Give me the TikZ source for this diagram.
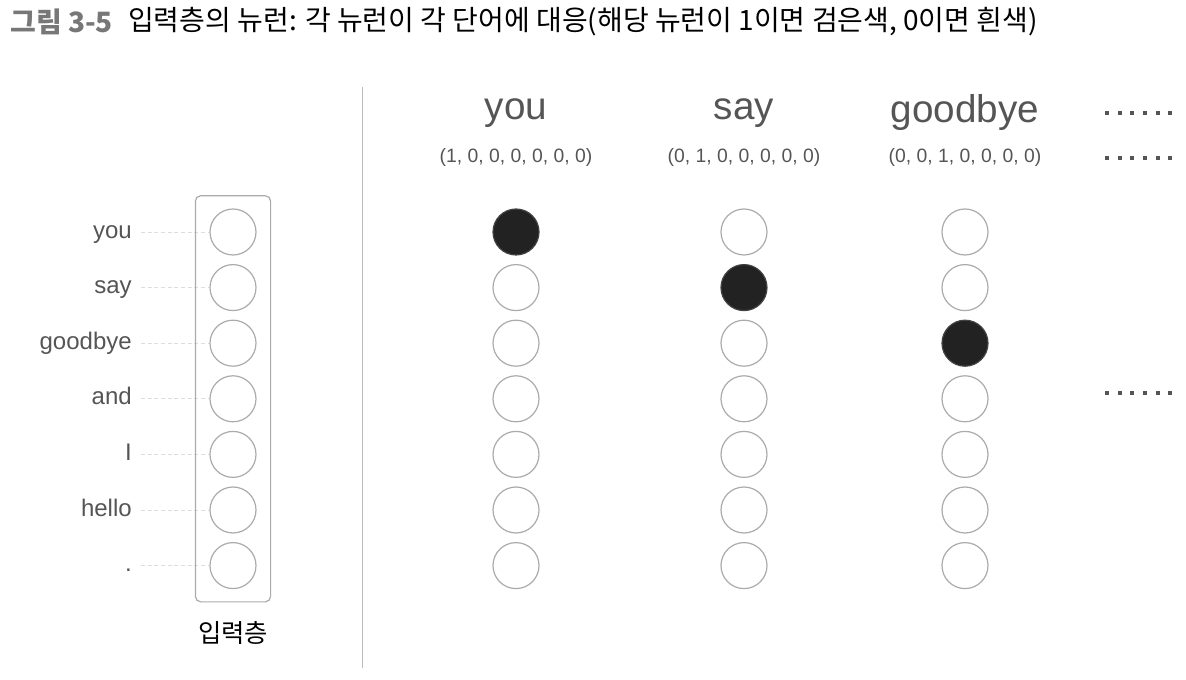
\documentclass[tikz,border=0pt]{standalone}
\usepackage{fontspec}
\setmainfont{Liberation Sans}
\newfontfamily\krfont{Noto Sans CJK KR}
\usetikzlibrary{positioning,fit}
\definecolor{wordgray}{HTML}{555555}
\definecolor{titlegray}{HTML}{777777}
\definecolor{rimgray}{HTML}{ABABAB}
\definecolor{dashgray}{HTML}{DDDDDD}
\definecolor{onblack}{HTML}{222222}
\tikzstyle{neuron} = [circle, draw=rimgray, line width=0.9pt, fill=white, minimum size=34.5pt, inner sep=0pt]
\tikzstyle{fired} = [neuron, fill=onblack, draw=onblack!85]
\tikzstyle{word} = [anchor=east, inner sep=0pt, text=wordgray, font=\fontsize{18pt}{21pt}\selectfont, text height=12.5pt, text depth=3.4pt]
\tikzstyle{head} = [inner sep=0pt, text=wordgray, font=\fontsize{29pt}{34pt}\selectfont]
\tikzstyle{onehot} = [inner sep=0pt, text=wordgray, font=\fontsize{14.5pt}{17pt}\selectfont]
\tikzstyle{layerbox} = [draw=rimgray, line width=0.9pt, rounded corners=4pt, inner xsep=10.5pt, inner ysep=9.5pt]
\tikzstyle{guide} = [draw=dashgray, line width=0.6pt, dash pattern=on 3pt off 2pt]
\tikzstyle{sepline} = [draw=rimgray!80, line width=0.7pt]
\tikzstyle{ellipsis} = [draw=wordgray, line width=3pt, dash pattern=on 3pt off 6.5pt]

\begin{document}
\begin{tikzpicture}[x=0.75pt, y=-0.75pt]
\useasboundingbox (0,0) rectangle (1186,680);
% Title
\node (fignum) [anchor=west, inner sep=0pt, text=titlegray, font=\krfont\bfseries\fontsize{21pt}{25pt}\selectfont] at (10,22) {그림 3-5};
\node (figtitle) [right=11pt of fignum, inner sep=0pt, font=\krfont\fontsize{21pt}{25pt}\selectfont] {입력층의 뉴런: 각 뉴런이 각 단어에 대응(해당 뉴런이 1이면 검은색, 0이면 흰색)};
% Input layer
\foreach \w [count=\i] in {you,say,goodbye,and,I,hello,.} {
  \pgfmathsetmacro\y{232+55.6*(\i-1)}
  \node (in-\i) [neuron] at (233,\y) {};
  \node (lbl-\i) [word] at (132,\y) {\w};
  \draw [guide] ([xshift=6.75pt]lbl-\i.east) -- (in-\i.west);
}
\node (inputLayer) [layerbox, fit=(in-1)(in-7)] {};
\node (inputName) [below=14pt of inputLayer, inner sep=0pt, font=\krfont\fontsize{19pt}{22pt}\selectfont] {입력층};
\draw [sepline] (362,87) -- (362,668);
% One-hot columns
\foreach \w/\v/\x [count=\c] in {you/{(1, 0, 0, 0, 0, 0, 0)}/516, say/{(0, 1, 0, 0, 0, 0, 0)}/744, goodbye/{(0, 0, 1, 0, 0, 0, 0)}/965} {
  \node (head-\c) [head] at (\x,113) {\w};
  \node (vec-\c) [onehot] at (\x,158) {\v};
  \foreach \i in {1,...,7} {
    \pgfmathsetmacro\y{232+55.6*(\i-1)}
    \ifnum\i=\c
      \node (col-\c-\i) [fired] at (\x,\y) {};
    \else
      \node (col-\c-\i) [neuron] at (\x,\y) {};
    \fi
  }
}
\foreach \y in {113,158,393}
  \draw [ellipsis] (1105,\y) -- (1176,\y);
\end{tikzpicture}
\end{document}
